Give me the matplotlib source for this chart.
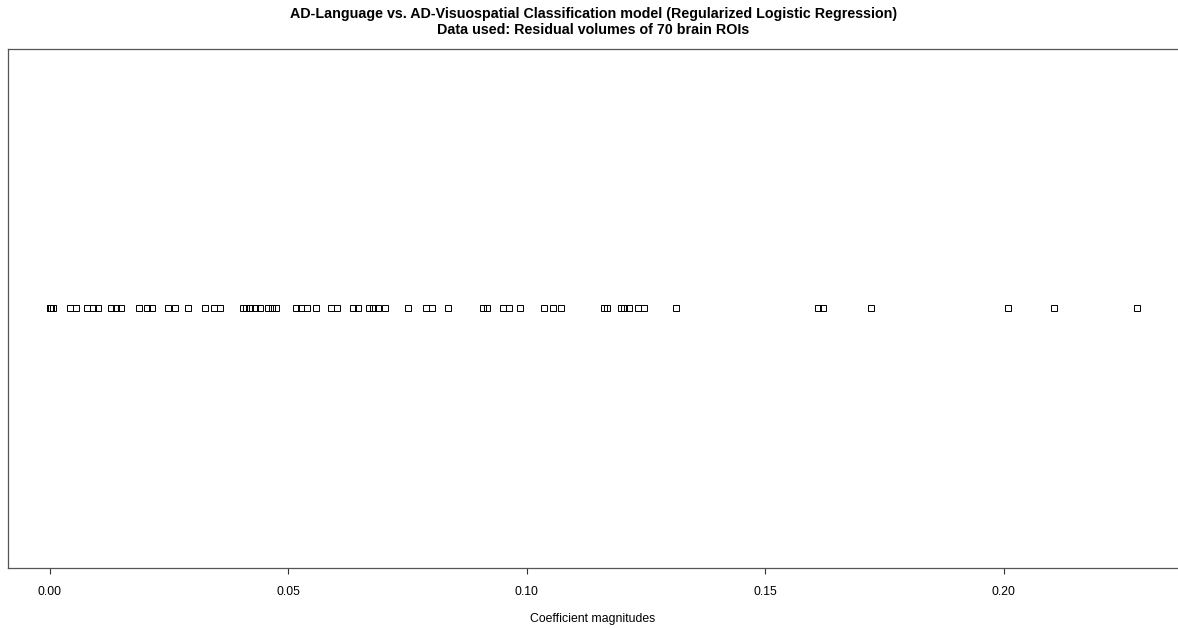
import matplotlib
matplotlib.use("Agg")
import matplotlib.pyplot as plt
import numpy as np

plt.rcParams["font.family"] = ["Liberation Sans", "DejaVu Sans"]

# absolute coefficient values of the 70 ROIs (several shrunk to zero)
coefs = [
    0.0, 0.0, 0.0, 0.0, 0.0, 0.0003, 0.0008,
    0.0042, 0.0055, 0.0079, 0.0090, 0.0102, 0.0129, 0.0140, 0.0150,
    0.0188, 0.0205, 0.0215, 0.0249, 0.0263, 0.0290, 0.0326, 0.0344, 0.0357,
    0.0405, 0.0411, 0.0421, 0.0430, 0.0440, 0.0458, 0.0467, 0.0475,
    0.0517, 0.0527, 0.0540, 0.0559, 0.0590, 0.0603, 0.0636, 0.0647,
    0.0670, 0.0678, 0.0689, 0.0702, 0.0752,
    0.0790, 0.0802, 0.0836, 0.0909, 0.0917, 0.0951, 0.0964, 0.0985,
    0.1037, 0.1056, 0.1073,
    0.1162, 0.1168, 0.1197, 0.1205, 0.1214, 0.1234, 0.1245, 0.1312,
    0.1611, 0.1622, 0.1722, 0.2008, 0.2106, 0.2280,
]
xticks = [0.00, 0.05, 0.10, 0.15, 0.20]
xtick_labels = ["0.00", "0.05", "0.10", "0.15", "0.20"]

fig = plt.figure(figsize=(11.78, 6.28), dpi=100)
ax = fig.add_axes([8.3 / 1178, 1 - 567.7 / 628, 1169.4 / 1178, 519.0 / 628])

ax.plot(coefs, np.ones(len(coefs)), linestyle="none", marker="s",
        markersize=4.2, markerfacecolor="none", markeredgecolor="black",
        markeredgewidth=0.7)

ax.set_xlim(-0.00866, 0.23647)
ax.set_ylim(0.6, 1.4)

ax.set_xticks(xticks)
ax.set_xticklabels(xtick_labels, fontsize=8.8)
ax.set_yticks([])
ax.tick_params(axis="x", length=4.5, width=0.8, color="#333333", pad=8.5)
for s in ax.spines.values():
    s.set_linewidth(0.9)
    s.set_color("#555555")
# the right edge of the frame lies outside the canvas
ax.spines["right"].set_visible(False)

ax.set_xlabel("Coefficient magnitudes", fontsize=8.8, labelpad=11)
fig.text(0.5035, 0.977, "AD-Language vs. AD-Visuospatial Classification model (Regularized Logistic Regression)",
         ha="center", va="center", fontsize=10.3, fontweight="bold")
fig.text(0.5035, 0.952, "Data used: Residual volumes of 70 brain ROIs",
         ha="center", va="center", fontsize=10.3, fontweight="bold")

fig.savefig("out.png", dpi=100)
